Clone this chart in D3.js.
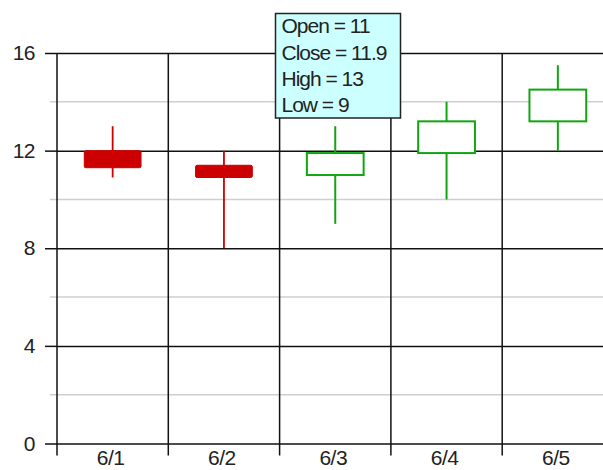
<!DOCTYPE html>
<html>
<head>
<meta charset="utf-8">
<script src="https://cdn.jsdelivr.net/npm/d3@7"></script>
<style>
  html, body { margin: 0; padding: 0; background: #fff; }
  svg { display: block; }
  text { font-family: "Liberation Sans", Helvetica, Arial, sans-serif; }
</style>
</head>
<body>
<svg id="chart" width="603" height="470"></svg>
<script>
const categories = ["6/1", "6/2", "6/3", "6/4", "6/5"];
const openVals  = [12, 11.4, 11, 11.9, 13.2];
const closeVals = [11.3, 10.9, 11.9, 13.2, 14.5];
const highVals  = [13, 12, 13, 14, 15.5];
const lowVals   = [10.9, 8, 9, 10, 12];
const yMajorTicks = [0, 4, 8, 12, 16];
const yMinorTicks = [2, 6, 10, 14];
const tooltipIndex = 2;

(function () {
const data = categories.map((c, i) => ({
  cat: c, open: openVals[i], close: closeVals[i], high: highVals[i], low: lowVals[i]
}));

const svg = d3.select("#chart");
const pLeft = 57, pRight = 613.5, pTop = 53, pBottom = 443.5;
const FONT = "Liberation Sans, Helvetica, Arial, sans-serif";

const x = d3.scaleBand().domain(categories).range([pLeft, pRight]).paddingInner(0).paddingOuter(0);
const y = d3.scaleLinear().domain([0, 16]).range([pBottom, pTop]);

// minor grid
svg.append("g").selectAll("line").data(yMinorTicks).join("line")
  .attr("x1", 50).attr("x2", 603)
  .attr("y1", d => y(d)).attr("y2", d => y(d))
  .attr("stroke", "#cfcfcf").attr("stroke-width", 1.5);

// major horizontal grid
const gridY = svg.append("g").attr("transform", `translate(${pLeft},0)`)
  .call(d3.axisLeft(y).tickValues(yMajorTicks).tickSize(-(pRight - pLeft)).tickFormat(""));
gridY.select(".domain").remove();
gridY.selectAll(".tick line").attr("stroke", "#111").attr("stroke-width", 1.5);

// vertical grid lines at band boundaries
const bounds = categories.map(c => x(c)).concat([pRight]);
svg.append("g").selectAll("line").data(bounds).join("line")
  .attr("x1", d => d).attr("x2", d => d)
  .attr("y1", pTop).attr("y2", pBottom + 12)
  .attr("stroke", "#111").attr("stroke-width", 1.5);

// y axis labels with short ticks
const yAxis = svg.append("g").attr("transform", `translate(${pLeft},0)`)
  .call(d3.axisLeft(y).tickValues(yMajorTicks).tickSizeInner(12).tickSizeOuter(0).tickPadding(10));
yAxis.select(".domain").remove();
yAxis.selectAll(".tick line").attr("stroke", "#111").attr("stroke-width", 1.5);
yAxis.selectAll("text").attr("font-size", 21).attr("fill", "#222")
  .attr("letter-spacing", -0.5).attr("font-family", FONT);

// x axis labels
const xAxis = svg.append("g").attr("transform", `translate(0,${pBottom})`)
  .call(d3.axisBottom(x).tickSize(0).tickPadding(7));
xAxis.select(".domain").remove();
xAxis.selectAll("text").attr("font-size", 21).attr("fill", "#222")
  .attr("letter-spacing", -0.5).attr("dx", -2).attr("font-family", FONT);

// candles
const bw = x.bandwidth();
const bodyW = bw * 0.51;
const red = "#cc0000", green = "#11a611";

const candles = svg.append("g").selectAll("g").data(data).join("g");
candles.each(function(d) {
  const g = d3.select(this);
  const cx = x(d.cat) + bw / 2;
  const up = d.close >= d.open;
  const yTop = y(Math.max(d.open, d.close));
  const yBot = y(Math.min(d.open, d.close));
  if (up) {
    g.append("line").attr("x1", cx).attr("x2", cx).attr("y1", y(d.high)).attr("y2", yTop)
      .attr("stroke", green).attr("stroke-width", 2);
    g.append("line").attr("x1", cx).attr("x2", cx).attr("y1", yBot).attr("y2", y(d.low))
      .attr("stroke", green).attr("stroke-width", 2);
    g.append("rect").attr("x", cx - bodyW / 2).attr("y", yTop)
      .attr("width", bodyW).attr("height", yBot - yTop)
      .attr("fill", "#fff").attr("stroke", green).attr("stroke-width", 2);
  } else {
    g.append("line").attr("x1", cx).attr("x2", cx).attr("y1", y(d.high)).attr("y2", y(d.low))
      .attr("stroke", red).attr("stroke-width", 1.8);
    g.append("rect").attr("x", cx - bodyW / 2).attr("y", yTop)
      .attr("width", bodyW).attr("height", yBot - yTop)
      .attr("rx", 1.5)
      .attr("fill", red).attr("stroke", red).attr("stroke-width", 1);
  }
});

// tooltip
const td = data[tooltipIndex];
const tipLines = [`Open = ${td.open}`, `Close = ${td.close}`, `High = ${td.high}`, `Low = ${td.low}`];
const tip = svg.append("g");
tip.append("rect").attr("x", 275.5).attr("y", 13.5).attr("width", 125).attr("height", 104.5)
  .attr("fill", "#ccffff").attr("stroke", "#222").attr("stroke-width", 1.5);
tip.selectAll("text").data(tipLines).join("text")
  .attr("x", 281.5).attr("y", (d, i) => 33.3 + i * 26.2)
  .attr("font-size", 21).attr("letter-spacing", -1).attr("fill", "#222")
  .attr("font-family", FONT)
  .text(d => d);
})();
</script>
</body>
</html>
